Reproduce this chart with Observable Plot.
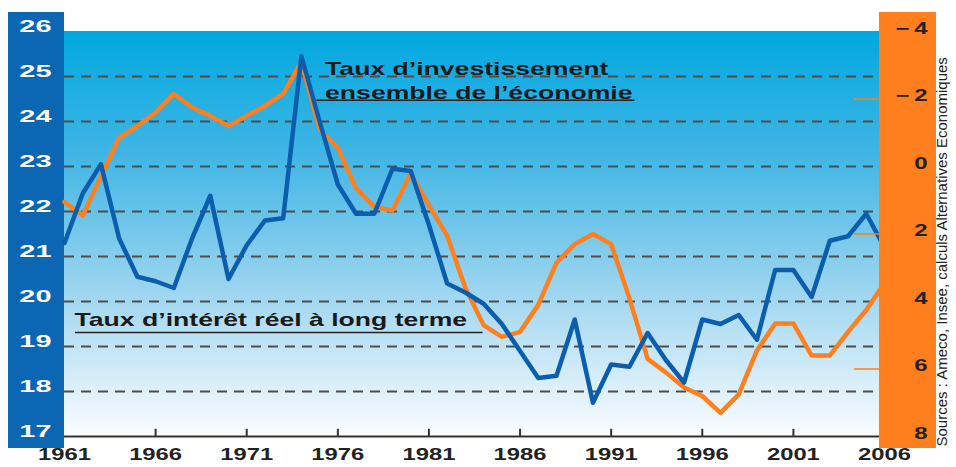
<!DOCTYPE html>
<html><head><meta charset="utf-8">
<script src="https://cdn.jsdelivr.net/npm/d3@7"></script>
<script src="https://cdn.jsdelivr.net/npm/@observablehq/plot@0.6"></script>
<style>
html,body{margin:0;padding:0;background:#fff;}
#chart{width:956px;height:467px;}
</style></head><body><div id="chart"></div>
<script>
const years = [1961,1962,1963,1964,1965,1966,1967,1968,1969,1970,1971,1972,1973,1974,1975,1976,1977,1978,1979,1980,1981,1982,1983,1984,1985,1986,1987,1988,1989,1990,1991,1992,1993,1994,1995,1996,1997,1998,1999,2000,2001,2002,2003,2004,2005,2006];
// Taux d'investissement (axe gauche, %)
const investissement = [21.3,22.4,23.05,21.4,20.55,20.45,20.3,21.4,22.35,20.5,21.25,21.8,21.85,25.45,24.0,22.6,21.95,21.95,22.95,22.9,21.7,20.4,20.2,19.95,19.5,18.9,18.3,18.35,19.6,17.75,18.6,18.55,19.3,18.7,18.2,19.6,19.5,19.7,19.15,20.7,20.7,20.1,21.35,21.45,21.95,21.2];
// Taux d'intérêt réel à long terme (axe droit inversé, %)
const tauxReel = [1.05,1.45,0.3,-0.85,-1.2,-1.6,-2.15,-1.75,-1.5,-1.2,-1.5,-1.8,-2.15,-3.1,-1.1,-0.55,0.65,1.2,1.3,0.2,1.15,2.05,3.6,4.7,5.05,4.9,4.1,2.85,2.3,2.0,2.3,3.9,5.7,6.1,6.55,6.8,7.3,6.75,5.45,4.65,4.65,5.6,5.6,4.9,4.25,3.45];
const leftTicks = [17,18,19,20,21,22,23,24,25,26];
const gridTicks = [18,19,20,21,22,23,24,25];
const rightTicks = [-4,-2,0,2,4,6,8];
const rightTickMarks = [-2,2,6];
const yearLabels = [1961,1966,1971,1976,1981,1986,1991,1996,2001,2006];
const yearTickMarks = [1966,1971,1976,1981,1986,1991,1996,2001];
const labelInvest = "Taux d’investissement\nensemble de l’économie";
const labelTaux = "Taux d’intérêt réel à long terme";
const sourceText = "Sources : Ameco, Insee, calculs Alternatives Economiques";

const y2 = d3.scaleLinear([-4, 8], [26, 17]);
const invData = years.map((year, i) => ({year, value: investissement[i]}));
const tauxData = years.map((year, i) => ({year, value: y2(tauxReel[i])}));

const NS = "http://www.w3.org/2000/svg";
function rect(x, y, w, h, fill) {
  const r = document.createElementNS(NS, "rect");
  r.setAttribute("x", x); r.setAttribute("y", y);
  r.setAttribute("width", w); r.setAttribute("height", h);
  r.setAttribute("fill", fill);
  return r;
}
const leftPanel = (index, scales, values, d) =>
  rect(8, d.marginTop - 19, d.marginLeft - 8, d.height - d.marginBottom + 12 - (d.marginTop - 19), "#0b67b3");
const rightPanel = (index, scales, values, d) =>
  rect(d.width - d.marginRight - 5, d.marginTop - 19, 57, d.height - d.marginBottom + 12 - (d.marginTop - 19), "#ff7f1e");
const plotBg = (index, scales, values, d) => {
  const g = document.createElementNS(NS, "g");
  g.innerHTML = `<defs><linearGradient id="bgGrad" x1="0" y1="0" x2="0" y2="1">
    <stop offset="0" stop-color="#00a8df"/>
    <stop offset="0.3" stop-color="#3fb5e5"/>
    <stop offset="0.65" stop-color="#9fd6f0"/>
    <stop offset="1" stop-color="#fbfdff"/></linearGradient></defs>`;
  g.appendChild(rect(d.marginLeft, d.marginTop, d.width - d.marginLeft - d.marginRight, d.height - d.marginTop - d.marginBottom, "url(#bgGrad)"));
  return g;
};

const chart = Plot.plot({
  width: 956, height: 467,
  marginLeft: 64, marginRight: 72, marginTop: 31, marginBottom: 31,
  style: {background: "white", fontFamily: "'Liberation Sans', Arial, sans-serif"},
  x: {domain: [1961, 2006], axis: null},
  y: {domain: [17, 26], axis: null},
  marks: [
    leftPanel,
    plotBg,
    Plot.ruleY(gridTicks, {stroke: "#4d4d4d", strokeWidth: 2, strokeDasharray: "10,7"}),
    Plot.ruleY([17], {stroke: "#333", strokeWidth: 2}),
    Plot.ruleX(yearTickMarks, {y1: 17, y2: 17.16, stroke: "#333", strokeWidth: 2}),
    Plot.ruleY([24.47], {x1: 1974.85, x2: 1992.3, stroke: "#222", strokeWidth: 1.5}),
    Plot.ruleY([19.31], {x1: 1961.6, x2: 1983.97, stroke: "#222", strokeWidth: 1.5}),
    Plot.text([labelInvest], {x: () => 1975.3, y: () => 25.4, text: d => d, textAnchor: "start", lineAnchor: "top", lineHeight: 1.25, fontSize: 19, fontWeight: "bold", fill: "#1a1a1a", ariaDescription: "annot"}),
    Plot.text([labelTaux], {x: () => 1961.55, y: () => 19.76, text: d => d, textAnchor: "start", lineAnchor: "top", fontSize: 19, fontWeight: "bold", fill: "#1a1a1a", ariaDescription: "annot"}),
    Plot.line(tauxData, {x: "year", y: "value", stroke: "#ff7f1e", strokeWidth: 4.5, strokeLinejoin: "round"}),
    Plot.line(invData, {x: "year", y: "value", stroke: "#0b5ead", strokeWidth: 4.5, strokeLinejoin: "round"}),
    Plot.ruleY(rightTickMarks, {y: d => y2(d), x1: 2004.35, x2: 2006, stroke: "#ff7f1e", strokeWidth: 1.5}),
    rightPanel,
    Plot.text(leftTicks, {y: d => d, text: d => String(d), frameAnchor: "left", dx: -13, dy: -5, textAnchor: "end", fill: "white", fontSize: 17, fontWeight: "bold", ariaDescription: "left-labels"}),
    Plot.text(rightTicks, {y: d => y2(d), frameAnchor: "right", dx: 43, dy: -3, textAnchor: "end", fill: "#222", fontSize: 16, fontWeight: "bold", text: d => d < 0 ? "−\u2009" + (-d) : String(d), ariaDescription: "right-labels"}),
    Plot.text(yearLabels, {x: d => d, text: d => String(d), frameAnchor: "bottom", dy: 23, fill: "#222", fontSize: 17, fontWeight: "bold", ariaDescription: "year-labels"}),
    Plot.text([sourceText], {text: d => d, frameAnchor: "bottom-right", dx: 62, dy: 10, rotate: -90, textAnchor: "start", fontSize: 15, fill: "#222", ariaDescription: "source"})
  ]
});
document.getElementById("chart").appendChild(chart);

function stretch(label, s) {
  chart.querySelectorAll(`g[aria-description="${label}"] text`).forEach(t => {
    let tr = t.getAttribute("transform");
    if (!tr) {
      const x = t.getAttribute("x") || 0, y = t.getAttribute("y") || 0;
      t.removeAttribute("x"); t.removeAttribute("y");
      tr = `translate(${x},${y})`;
    }
    t.setAttribute("transform", tr + ` scale(${s},1)`);
  });
}
stretch("annot", 1.4);
stretch("left-labels", 1.7);
stretch("right-labels", 1.5);
stretch("year-labels", 1.4);
stretch("source", 1.0);
</script></body></html>
